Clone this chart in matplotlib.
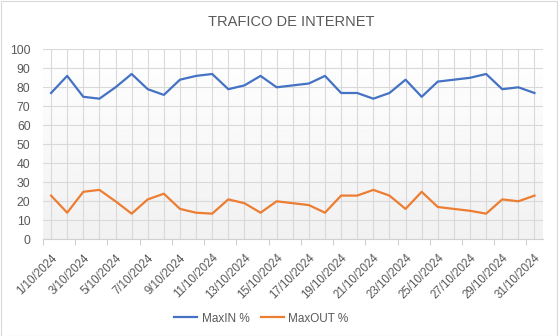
import numpy as np
import matplotlib
matplotlib.use('Agg')
import matplotlib.pyplot as plt
from matplotlib.ticker import FixedLocator, NullFormatter

# daily peaks, October 2024
dias = list(range(1, 32))
fechas = ['%d/10/2024' % d for d in dias]
max_in = [77, 86, 75, 74, 80, 87, 79, 76, 84, 86, 87, 79, 81, 86, 80, 81,
          82, 86, 77, 77, 74, 77, 84, 75, 83, 84, 85, 87, 79, 80, 77]
max_out = [23, 14, 25, 26, 20, 13.5, 21, 24, 16, 14, 13.5, 21, 19, 14, 20, 19,
           18, 14, 23, 23, 26, 23, 16, 25, 17, 16, 15, 13.5, 21, 20, 23]

plt.rcParams['font.family'] = ['Liberation Sans', 'DejaVu Sans']
gris = '#595959'

fig = plt.figure(figsize=(5.6, 3.36), dpi=100)
ax = fig.add_axes([0.0768, 0.2878, 0.9688 - 0.0768, 0.8533 - 0.2878])

# soft vertical gradient behind the plot
grad = np.linspace(1.0, 0.945, 256).reshape(-1, 1)
ax.imshow(grad, extent=[0, 1, 0, 1], transform=ax.transAxes, cmap='gray',
          vmin=0, vmax=1, aspect='auto', zorder=0)

ax.plot(dias, max_in, color='#4472C4', lw=1.6, label='MaxIN %', zorder=3)
ax.plot(dias, max_out, color='#ED7D31', lw=1.6, label='MaxOUT %', zorder=3)

ax.set_xlim(0.5, 31.5)
ax.set_ylim(0, 100)
ax.set_yticks(range(0, 101, 10))
ax.tick_params(axis='y', length=0, pad=9, labelsize=8.8, labelcolor=gris)

# labels on every other day, tick marks between categories
ax.xaxis.set_major_locator(FixedLocator(np.arange(0.5, 32, 2)))
ax.xaxis.set_major_formatter(NullFormatter())
ax.xaxis.set_minor_locator(FixedLocator(dias[::2]))
ax.set_xticklabels(fechas[::2], minor=True, rotation=45, ha='right',
                   rotation_mode='anchor', fontsize=8.3, color=gris)
ax.tick_params(axis='x', which='major', length=4, color='#d0d0d0', width=0.8)
ax.tick_params(axis='x', which='minor', length=0, pad=9)

for d in dias:
    ax.axvline(d, color='#d9d9d9', lw=0.8, zorder=1)
for v in range(10, 101, 10):
    ax.axhline(v, color='#d9d9d9', lw=0.8, zorder=1)

for s in ['top', 'right', 'left']:
    ax.spines[s].set_visible(False)
ax.spines['bottom'].set_color('#d0d0d0')
ax.spines['bottom'].set_linewidth(0.8)

fig.text(0.52, 0.935, 'TRAFICO DE INTERNET', ha='center', va='center',
         fontsize=10.5, color=gris)

fig.legend(loc='center', bbox_to_anchor=(0.467, 0.052), ncol=2, frameon=False,
           fontsize=8.5, handlelength=1.9, columnspacing=1.0, handletextpad=0.4,
           labelcolor=gris)

# thin chart border
fig.patches.append(plt.Rectangle((0.001, 0.001), 0.994, 0.997, fill=False,
                                 edgecolor='#d9d9d9', lw=0.8,
                                 transform=fig.transFigure))

fig.savefig('out.png', dpi=100)
